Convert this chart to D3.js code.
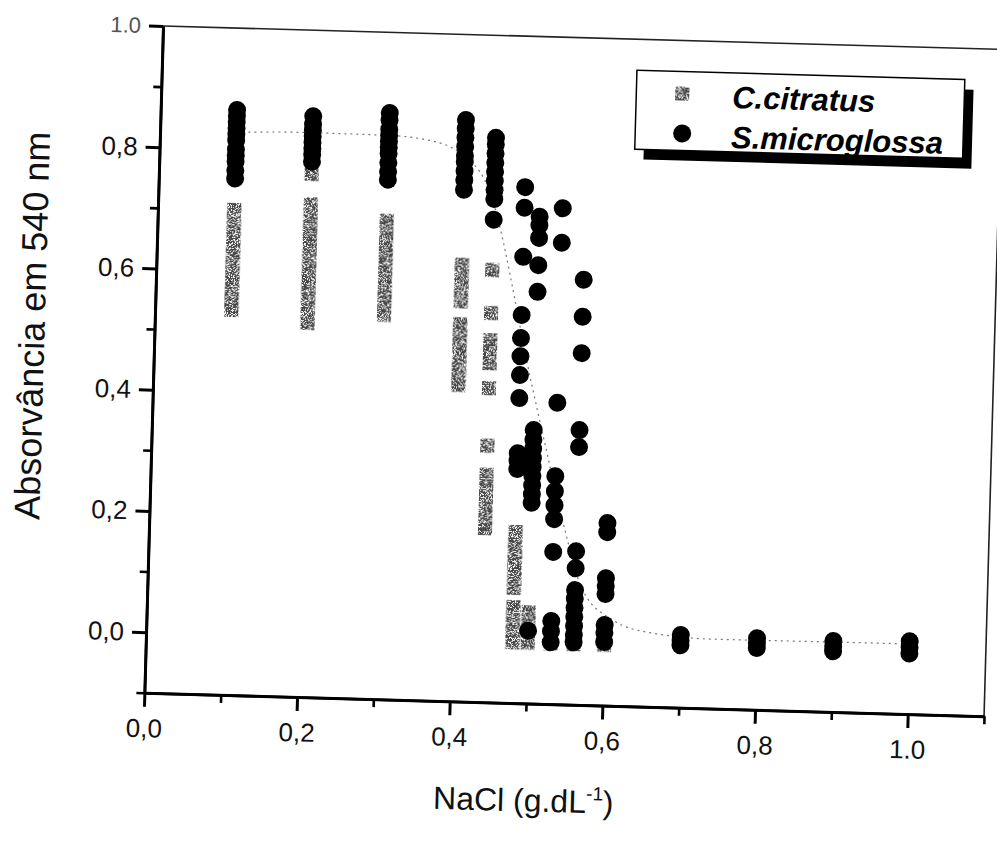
<!DOCTYPE html>
<html>
<head>
<meta charset="utf-8">
<script src="https://cdn.jsdelivr.net/npm/d3@7"></script>
<style>
    html, body { margin: 0; padding: 0; background: #fff; }
    svg { display: block; font-family: "Liberation Sans", Arial, sans-serif; }
</style>
</head>
<body>
<svg id="chart" width="997" height="847"></svg>
<script>
// absorbance of erythrocyte haemolysis vs NaCl
const xMajorTicks = [0, 0.2, 0.4, 0.6, 0.8, 1.0];
const xMinorTicks = [0.1, 0.3, 0.5, 0.7, 0.9, 1.1];
const yMajorTicks = [0, 0.2, 0.4, 0.6, 0.8, 1.0];
const yMinorTicks = [-0.1, 0.1, 0.3, 0.5, 0.7, 0.9];

// C.citratus (squares), one entry per NaCl level
const citratus = [
    [0.10, [0.535, 0.55, 0.565, 0.58, 0.595, 0.61, 0.625, 0.64, 0.655, 0.67, 0.685, 0.70]],
    [0.20, [0.517, 0.53, 0.545, 0.56, 0.575, 0.59, 0.605, 0.62, 0.635, 0.65, 0.665, 0.68, 0.695, 0.713, 0.763]],
    [0.30, [0.534, 0.548, 0.562, 0.576, 0.59, 0.604, 0.618, 0.632, 0.646, 0.66, 0.675, 0.689]],
    [0.40, [0.422, 0.436, 0.45, 0.465, 0.48, 0.494, 0.508, 0.522, 0.56, 0.575, 0.59, 0.605, 0.62]],
    [0.44, [0.187, 0.20, 0.215, 0.23, 0.245, 0.26, 0.275, 0.323, 0.418, 0.459, 0.47, 0.485, 0.497, 0.542, 0.613]],
    [0.48, [0.0, 0.015, 0.03, 0.045, 0.058, 0.09, 0.105, 0.12, 0.135, 0.15, 0.165, 0.182]],
    [0.50, [0.0, 0.015, 0.03, 0.05]],
    [0.53, [0.0, 0.01]],
    [0.56, [0.0, 0.01]],
    [0.60, [0.0]]
];

// S.microglossa (circles)
const microglossa = [
    [0.10, [0.752, 0.765, 0.78, 0.79, 0.80, 0.815, 0.825, 0.835, 0.845, 0.855, 0.865]],
    [0.20, [0.783, 0.795, 0.805, 0.815, 0.825, 0.835, 0.845, 0.858]],
    [0.30, [0.757, 0.77, 0.785, 0.80, 0.81, 0.82, 0.83, 0.84, 0.855, 0.867]],
    [0.40, [0.744, 0.76, 0.775, 0.79, 0.80, 0.815, 0.83, 0.845, 0.859]],
    [0.44, [0.696, 0.73, 0.745, 0.76, 0.775, 0.79, 0.805, 0.82, 0.831]],
    [0.48, [0.286, 0.30, 0.312, 0.403, 0.441, 0.472, 0.502, 0.54, 0.636, 0.717, 0.751]],
    [0.50, [0.02, 0.231, 0.245, 0.26, 0.275, 0.29, 0.305, 0.32, 0.335, 0.351, 0.579, 0.623, 0.668, 0.689, 0.703]],
    [0.53, [0.002, 0.02, 0.037, 0.151, 0.205, 0.228, 0.251, 0.276, 0.397, 0.661, 0.718]],
    [0.56, [0.003, 0.015, 0.03, 0.045, 0.06, 0.075, 0.089, 0.125, 0.153, 0.325, 0.353, 0.48, 0.54, 0.601]],
    [0.60, [0.005, 0.02, 0.033, 0.084, 0.097, 0.11, 0.186, 0.201]],
    [0.70, [0.003, 0.011, 0.02]],
    [0.80, [0.002, 0.01, 0.018]],
    [0.90, [0.0, 0.008, 0.017]],
    [1.00, [0.0, 0.01, 0.02]]
];

// dotted fitted curve
const fitX = [0.10, 0.183, 0.30, 0.356, 0.391, 0.431, 0.496, 0.515, 0.542, 0.570, 0.611, 0.656, 0.742, 0.85, 0.961, 1.0];
const fitY = [0.828, 0.831, 0.830, 0.823, 0.806, 0.750, 0.425, 0.330, 0.199, 0.089, 0.041, 0.023, 0.0145, 0.015, 0.0155, 0.0155];

const seriesNames = ['C.citratus', 'S.microglossa'];

(function () {
    'use strict';

    const W = 840;
    const H = 667;
    const tilt = 1.6; // the scan sits slightly rotated

    const svg = d3.select('#chart');

    // speckled fill for the grey squares
    const defs = svg.append('defs');
    const grain = defs.append('filter').attr('id', 'grain')
        .attr('x', '-10%').attr('y', '-10%').attr('width', '120%').attr('height', '120%');
    grain.append('feTurbulence')
        .attr('type', 'fractalNoise').attr('baseFrequency', 1.4)
        .attr('numOctaves', 1).attr('seed', 7).attr('result', 'noise');
    grain.append('feColorMatrix')
        .attr('in', 'noise').attr('type', 'matrix')
        .attr('values', '0 0 0 0 0.06  0 0 0 0 0.06  0 0 0 0 0.06  12 0 0 0 -5.0')
        .attr('result', 'dots');
    grain.append('feComposite')
        .attr('in', 'dots').attr('in2', 'SourceAlpha').attr('operator', 'in');

    const root = svg.append('g')
        .attr('transform', `translate(163,26) rotate(${tilt})`);

    const x = d3.scaleLinear().domain([0, 1.1]).range([0, W]);
    const y = d3.scaleLinear().domain([-0.1, 1.0]).range([H, 0]);

    const fmt = (d) => (Math.abs(d - 1) < 1e-9 ? '1.0' : d3.format('.1f')(d).replace('.', ','));

    // frame: thin top and right edges
    root.append('line')
        .attr('x1', 0).attr('y1', 0).attr('x2', W).attr('y2', 0)
        .attr('stroke', '#222').attr('stroke-width', 1.6);
    root.append('line')
        .attr('x1', W).attr('y1', 0).attr('x2', W).attr('y2', H)
        .attr('stroke', '#222').attr('stroke-width', 1.6);

    // fitted curve
    const fitPts = fitX.map((d, i) => [d, fitY[i]]);
    root.append('path')
        .datum(fitPts)
        .attr('fill', 'none')
        .attr('stroke', '#777')
        .attr('stroke-width', 1.2)
        .attr('stroke-dasharray', '2,4')
        .attr('d', d3.line().x((d) => x(d[0])).y((d) => y(d[1])).curve(d3.curveMonotoneX));

    const flat = (cols) => cols.flatMap(([xv, ys]) => ys.map((yv) => [xv, yv]));

    const sq = 14;
    root.append('g')
        .attr('filter', 'url(#grain)')
        .selectAll('rect')
        .data(flat(citratus))
        .join('rect')
        .attr('x', (d) => x(d[0]) - sq / 2)
        .attr('y', (d) => y(d[1]) - sq / 2)
        .attr('width', sq)
        .attr('height', sq)
        .attr('fill', '#000');

    root.append('g')
        .selectAll('circle')
        .data(flat(microglossa))
        .join('circle')
        .attr('cx', (d) => x(d[0]))
        .attr('cy', (d) => y(d[1]))
        .attr('r', 9)
        .attr('fill', '#000');

    // axes
    const styleAxis = (g, width) => {
        g.select('.domain').attr('stroke-width', width).attr('stroke', '#000');
        g.selectAll('.tick line').attr('stroke-width', width).attr('stroke', '#000');
        g.selectAll('.tick text')
            .attr('font-size', 26)
            .attr('fill', '#111')
            .attr('font-family', '"Liberation Sans", Arial, sans-serif');
    };

    root.append('g')
        .attr('transform', `translate(0,${H})`)
        .call(d3.axisBottom(x).tickValues(xMinorTicks).tickSize(8).tickSizeOuter(0).tickFormat(''))
        .call((g) => styleAxis(g, 2.6));
    root.append('g')
        .attr('transform', `translate(0,${H})`)
        .call(d3.axisBottom(x).tickValues(xMajorTicks).tickSize(14).tickSizeOuter(0).tickPadding(12).tickFormat(fmt))
        .call((g) => styleAxis(g, 3));

    root.append('g')
        .call(d3.axisLeft(y).tickValues(yMinorTicks).tickSize(8).tickSizeOuter(0).tickFormat(''))
        .call((g) => styleAxis(g, 2.6));
    root.append('g')
        .call(d3.axisLeft(y).tickValues(yMajorTicks).tickSize(14).tickSizeOuter(0).tickPadding(8).tickFormat(fmt))
        .call((g) => styleAxis(g, 3))
        .call((g) => g.selectAll('.tick text')
            .filter((d) => d === 1)
            .attr('font-size', 22)
            .attr('fill', '#555'));

    // axis titles
    root.append('text')
        .attr('transform', `translate(-110,${y(0.5)}) rotate(-90)`)
        .attr('text-anchor', 'middle')
        .attr('font-size', 36)
        .attr('fill', '#111')
        .text('Absorvância em 540 nm');

    const xt = root.append('text')
        .attr('x', x(0.5))
        .attr('y', H + 108)
        .attr('text-anchor', 'middle')
        .attr('font-size', 32)
        .attr('fill', '#111');
    xt.append('tspan').text('NaCl (g.dL');
    xt.append('tspan').attr('dy', -13).attr('font-size', 19).text('-1');
    xt.append('tspan').attr('dy', 13).text(')');

    // legend box with drop shadow
    const lg = root.append('g').attr('transform', 'translate(475,31)');
    lg.append('rect')
        .attr('x', 9).attr('y', 10).attr('width', 328).attr('height', 79)
        .attr('fill', '#000');
    lg.append('rect')
        .attr('width', 328).attr('height', 79)
        .attr('fill', '#fff').attr('stroke', '#000').attr('stroke-width', 1.5);

    lg.append('rect')
        .attr('x', 46 - 7).attr('y', 22 - 7).attr('width', 14).attr('height', 14)
        .attr('fill', '#000').attr('filter', 'url(#grain)');
    lg.append('circle')
        .attr('cx', 47).attr('cy', 62).attr('r', 9).attr('fill', '#000');

    seriesNames.forEach((name, i) => {
        lg.append('text')
            .attr('x', 96)
            .attr('y', 35 + i * 40)
            .attr('font-size', 31)
            .attr('font-weight', 700)
            .attr('font-style', 'italic')
            .attr('fill', '#000')
            .text(name);
    });
})();
</script>
</body>
</html>
